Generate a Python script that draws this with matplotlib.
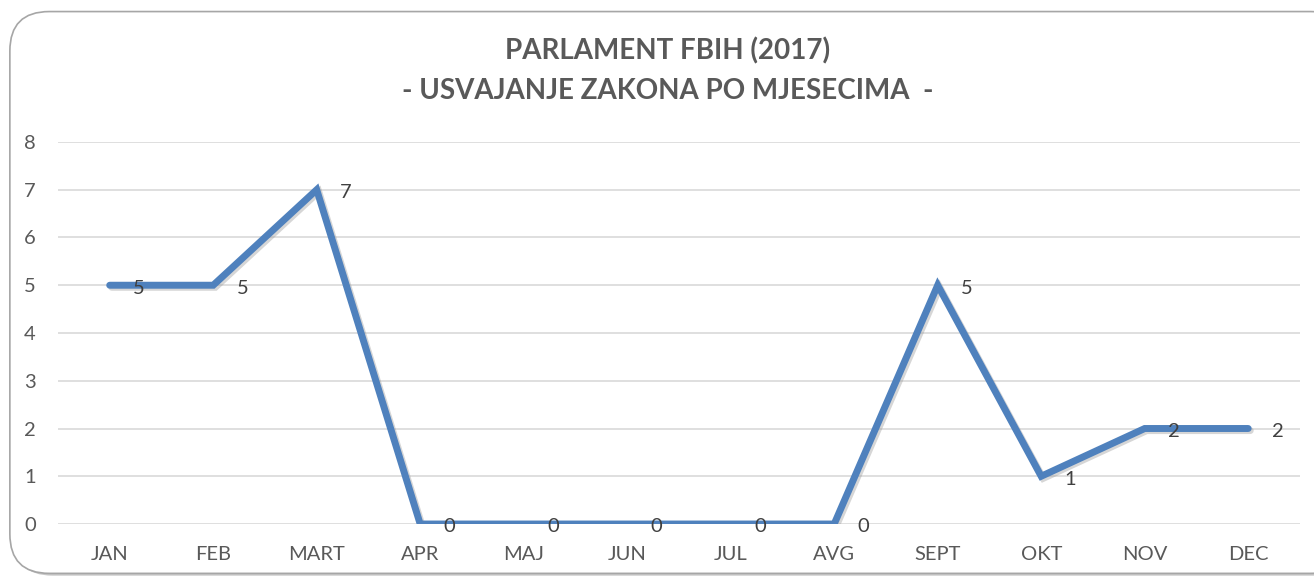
import matplotlib
matplotlib.use("Agg")
import matplotlib.pyplot as plt
import matplotlib.patheffects as pe
from matplotlib.patches import FancyBboxPatch

months = ["JAN", "FEB", "MART", "APR", "MAJ", "JUN", "JUL", "AVG", "SEPT", "OKT", "NOV", "DEC"]
laws = [5, 5, 7, 0, 0, 0, 0, 0, 5, 1, 2, 2]
y_ticks = [0, 1, 2, 3, 4, 5, 6, 7, 8]

plt.rcParams['font.family'] = ['Lato', 'DejaVu Sans']
grey = '#595959'
blue = '#4F81BD'

fig = plt.figure(figsize=(13.14, 5.78), dpi=100)

# rounded chart frame with a soft shadow
shadow = FancyBboxPatch((0.010, 0.004), 1.02, 0.975, boxstyle="round,pad=0,rounding_size=0.03",
                        transform=fig.transFigure, facecolor='#c8c8c8', edgecolor='none',
                        mutation_aspect=1314 / 578, zorder=-2)
frame = FancyBboxPatch((0.0075, 0.008), 1.02, 0.972, boxstyle="round,pad=0,rounding_size=0.03",
                       transform=fig.transFigure, facecolor='white', edgecolor='#a6a6a6',
                       linewidth=1.2, mutation_aspect=1314 / 578, zorder=-1)
fig.patches.extend([shadow, frame])

ax = fig.add_axes([0.0441, 0.0934, 0.9452, 0.661])
ax.set_zorder(1)
ax.set_facecolor('none')
x = range(len(months))
ax.plot(x, laws, color=blue, linewidth=5, solid_capstyle='round', solid_joinstyle='miter',
        path_effects=[pe.SimpleLineShadow(offset=(1.5, -1.5), shadow_color='#999999', alpha=0.4),
                      pe.Normal()], zorder=3)

for i, v in enumerate(laws):
    ax.annotate(str(v), (i, v), xytext=(17, -2), textcoords='offset points',
                ha='left', va='center', fontsize=14.5, color='#404040', zorder=4)

ax.set_xlim(-0.5, len(months) - 0.5)
ax.set_ylim(0, 8)
ax.set_yticks(y_ticks)
ax.set_xticks(list(x))
ax.set_xticklabels(months)
ax.yaxis.grid(True, color='#d9d9d9', linewidth=1.2)
ax.set_axisbelow(True)
for s in ax.spines.values():
    s.set_visible(False)
ax.tick_params(length=0, labelsize=14.5, labelcolor=grey)
ax.tick_params(axis='y', pad=16)
ax.tick_params(axis='x', pad=16)

fig.text(0.508, 0.912, "PARLAMENT FBIH (2017)", ha='center', va='center',
         fontsize=20, fontweight='bold', color=grey)
fig.text(0.508, 0.843, "- USVAJANJE ZAKONA PO MJESECIMA  -", ha='center', va='center',
         fontsize=20, fontweight='bold', color=grey)

fig.savefig("out.png", dpi=100)
